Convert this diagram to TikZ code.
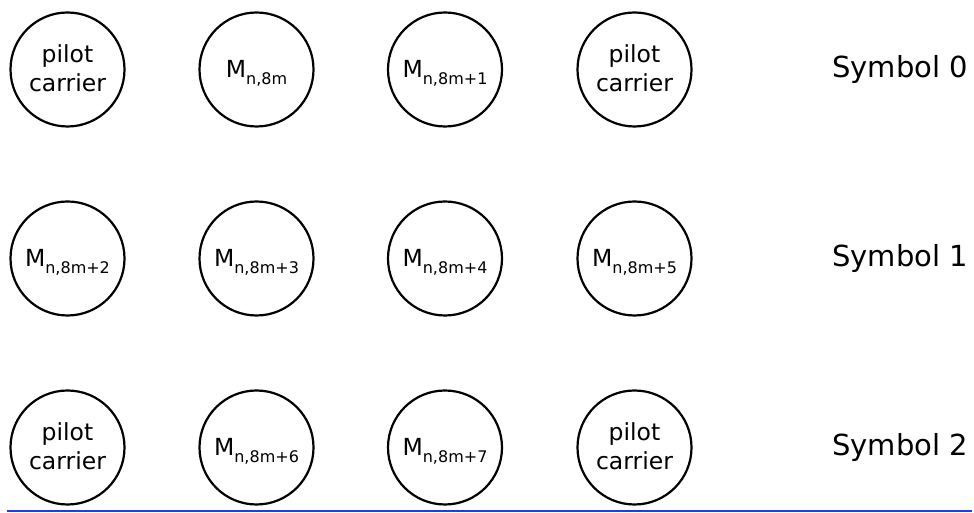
\documentclass[tikz,border=0pt]{standalone}
\usepackage{fontspec}
\setmainfont{DejaVu Sans}
\definecolor{lineblue}{RGB}{25,60,245}
\begin{document}
\begin{tikzpicture}[x=1pt,y=1pt,
  circ/.style={circle,draw=black,line width=2.2pt,minimum size=114pt,inner sep=0pt},
  ctxt/.style={inner sep=0pt,anchor=base,font=\fontsize{23.5pt}{25pt}\selectfont},
  symtxt/.style={inner sep=0pt,anchor=base west,font=\fontsize{29pt}{31pt}\selectfont}]
\useasboundingbox (0,0) rectangle (974,513);
\newcommand{\msub}[1]{M\raisebox{-7pt}{\fontsize{16pt}{17pt}\selectfont n,#1}}
% row 0
\node[circ] (c00) at (67.5,443.5) {};
\node[circ] (c01) at (256.5,443.5) {};
\node[circ] (c02) at (445,443.5) {};
\node[circ] (c03) at (634.5,443.5) {};
% row 1
\node[circ] (c10) at (67.5,254.5) {};
\node[circ] (c11) at (256.5,254.5) {};
\node[circ] (c12) at (445,254.5) {};
\node[circ] (c13) at (634.5,254.5) {};
% row 2
\node[circ] (c20) at (67.5,65.5) {};
\node[circ] (c21) at (256.5,65.5) {};
\node[circ] (c22) at (445,65.5) {};
\node[circ] (c23) at (634.5,65.5) {};
% texts
\node[ctxt] (p00a) at ([yshift=6.5pt]c00.center) {pilot};
\node[ctxt] (p00b) at ([yshift=-22.5pt]c00.center) {carrier};
\node[ctxt] (m01) at ([yshift=-8.5pt]c01.center) {\msub{8m}};
\node[ctxt] (m02) at ([yshift=-8.5pt]c02.center) {\msub{8m+1}};
\node[ctxt] (p03a) at ([yshift=6.5pt]c03.center) {pilot};
\node[ctxt] (p03b) at ([yshift=-22.5pt]c03.center) {carrier};
\node[ctxt] (m10) at ([yshift=-8.5pt]c10.center) {\msub{8m+2}};
\node[ctxt] (m11) at ([yshift=-8.5pt]c11.center) {\msub{8m+3}};
\node[ctxt] (m12) at ([yshift=-8.5pt]c12.center) {\msub{8m+4}};
\node[ctxt] (m13) at ([yshift=-8.5pt]c13.center) {\msub{8m+5}};
\node[ctxt] (p20a) at ([yshift=6.5pt]c20.center) {pilot};
\node[ctxt] (p20b) at ([yshift=-22.5pt]c20.center) {carrier};
\node[ctxt] (m21) at ([yshift=-8.5pt]c21.center) {\msub{8m+6}};
\node[ctxt] (m22) at ([yshift=-8.5pt]c22.center) {\msub{8m+7}};
\node[ctxt] (p23a) at ([yshift=6.5pt]c23.center) {pilot};
\node[ctxt] (p23b) at ([yshift=-22.5pt]c23.center) {carrier};
% symbol labels
\node[symtxt] (s0) at (832,435) {Symbol 0};
\node[symtxt] (s1) at (832,246) {Symbol 1};
\node[symtxt] (s2) at (832,57) {Symbol 2};
% blue line
\coordinate (bl) at (7,2);
\coordinate (br) at (972,2);
\draw[lineblue,line width=2pt] (bl) -- (br);
\end{tikzpicture}
\end{document}
